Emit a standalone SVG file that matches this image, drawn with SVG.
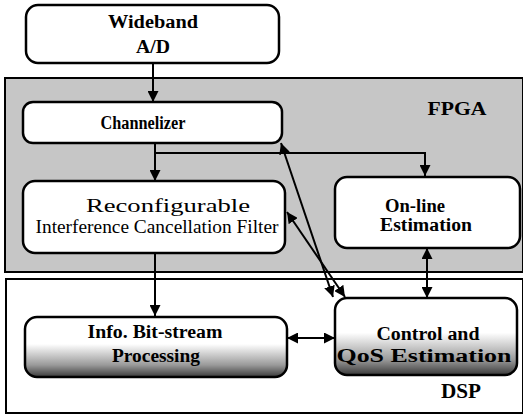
<svg xmlns="http://www.w3.org/2000/svg" width="523" height="415" viewBox="0 0 523 415">
<defs>
<marker id="ah" viewBox="0 0 10 10" refX="10" refY="5" markerWidth="11" markerHeight="11" markerUnits="userSpaceOnUse" orient="auto-start-reverse">
<path d="M0,0 L10,5 L0,10 z" fill="#000"/>
</marker>
<linearGradient id="scan" x1="0" y1="0" x2="0" y2="1">
<stop offset="0.45" stop-color="#fff"/>
<stop offset="0.8" stop-color="#9a9a9a"/>
<stop offset="1" stop-color="#3a3a3a"/>
</linearGradient>
</defs>
<style>
.region{fill:none;stroke:#000;stroke-width:2}
.box{fill:#fff;stroke:#000;stroke-width:2.5}
.b{font-family:"Liberation Serif","DejaVu Serif","Times New Roman",serif;font-weight:bold;font-size:18px;fill:#000;text-anchor:middle}
.r{font-family:"Liberation Serif","DejaVu Serif","Times New Roman",serif;font-size:19px;fill:#000;text-anchor:middle}
.c{fill:none;stroke:#000;stroke-width:2}
</style>
<rect x="0" y="0" width="523" height="415" fill="#fff"/>
<g id="fpga">
<rect x="5" y="78" width="518" height="194" fill="#c6c6c6" stroke="#000" stroke-width="2"/>
<text class="b" x="457" y="115" textLength="59" lengthAdjust="spacingAndGlyphs">FPGA</text>
</g>
<g id="dsp">
<rect x="6" y="279" width="517" height="134" class="region" fill="#fff"/>
<text class="b" x="461" y="398" textLength="40" lengthAdjust="spacingAndGlyphs" style="font-size:20px">DSP</text>
</g>
<g id="connectors">
<line class="c" x1="153" y1="63" x2="153" y2="102" marker-end="url(#ah)"/>
<line class="c" x1="155" y1="143" x2="155" y2="181" marker-end="url(#ah)"/>
<polyline class="c" points="155,153 425,153 425,176" marker-end="url(#ah)"/>
<line class="c" x1="281" y1="143" x2="333" y2="297" marker-start="url(#ah)" marker-end="url(#ah)"/>
<line class="c" x1="287" y1="212" x2="345" y2="297" marker-start="url(#ah)" marker-end="url(#ah)"/>
<line class="c" x1="427" y1="248" x2="427" y2="298" marker-start="url(#ah)" marker-end="url(#ah)"/>
<line class="c" x1="155" y1="253" x2="155" y2="316" marker-end="url(#ah)"/>
<line class="c" x1="287" y1="338" x2="335" y2="338" marker-start="url(#ah)" marker-end="url(#ah)"/>
</g>
<g id="wideband">
<rect class="box" x="26" y="5" width="253" height="58" rx="12"/>
<text class="b" x="153" y="28" textLength="90" lengthAdjust="spacingAndGlyphs">Wideband</text>
<text class="b" x="153" y="53" textLength="34" lengthAdjust="spacingAndGlyphs">A/D</text>
</g>
<g id="channelizer">
<rect class="box" x="23" y="102" width="259" height="41" rx="10"/>
<text class="b" x="143" y="129" textLength="85" lengthAdjust="spacingAndGlyphs">Channelizer</text>
</g>
<g id="filter">
<rect class="box" x="23" y="181" width="262" height="72" rx="12"/>
<text class="r" x="168" y="212" textLength="164" lengthAdjust="spacingAndGlyphs">Reconfigurable</text>
<text class="r" x="157" y="233" textLength="243" lengthAdjust="spacingAndGlyphs">Interference Cancellation Filter</text>
</g>
<g id="online">
<rect class="box" x="335" y="177" width="185" height="71" rx="12"/>
<text class="b" x="415" y="212" textLength="60" lengthAdjust="spacingAndGlyphs">On-line</text>
<text class="b" x="426" y="231" textLength="92" lengthAdjust="spacingAndGlyphs">Estimation</text>
</g>
<g id="info">
<rect x="25" y="317" width="262" height="60" rx="12" fill="url(#scan)" stroke="#000" stroke-width="2.5"/>
<text class="b" x="155" y="338" textLength="135" lengthAdjust="spacingAndGlyphs">Info. Bit-stream</text>
<text class="b" x="156" y="362" textLength="88" lengthAdjust="spacingAndGlyphs">Processing</text>
</g>
<g id="control">
<rect x="335" y="298" width="182" height="77" rx="12" fill="url(#scan)" stroke="#000" stroke-width="2.5"/>
<text class="b" x="428" y="340" textLength="103" lengthAdjust="spacingAndGlyphs">Control and</text>
<text class="b" x="424" y="362" textLength="175" lengthAdjust="spacingAndGlyphs">QoS Estimation</text>
</g>
</svg>
